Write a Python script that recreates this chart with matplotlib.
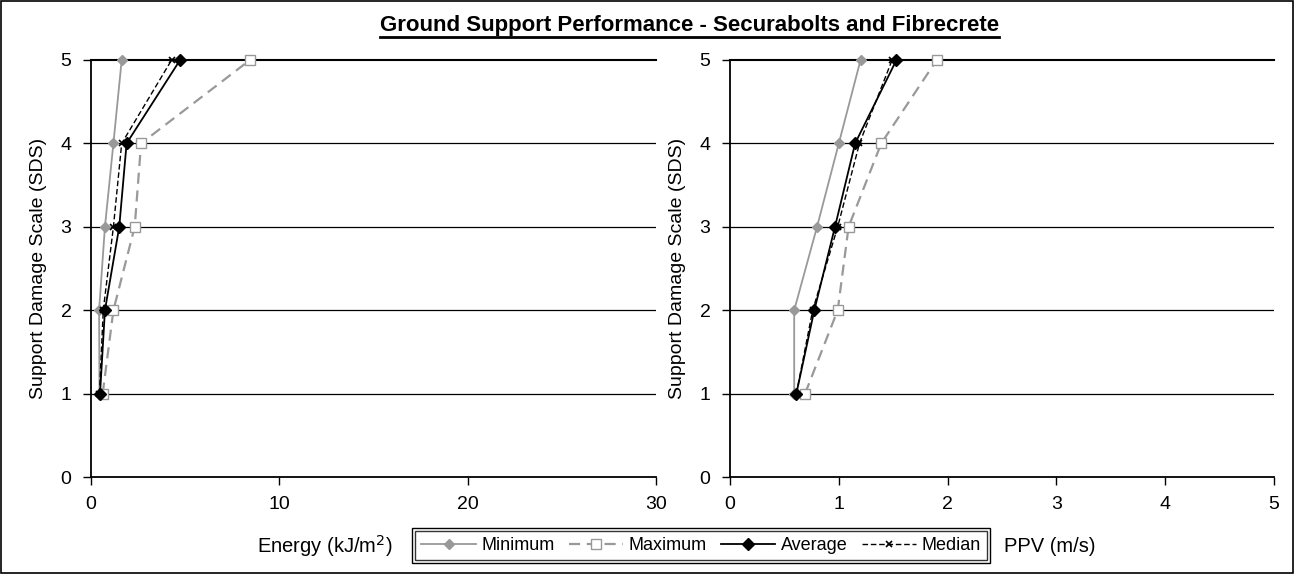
import matplotlib.pyplot as plt
from matplotlib.patches import Rectangle
from matplotlib.lines import Line2D

plt.rcParams['font.family'] = ['Liberation Sans', 'DejaVu Sans']

sds = [1, 2, 3, 4, 5]

# energy (kJ/m2)
energy_min = [0.45, 0.43, 0.74, 1.19, 1.63]
energy_max = [0.62, 1.19, 2.32, 2.66, 8.44]
energy_avg = [0.48, 0.74, 1.50, 1.89, 4.73]
energy_med = [0.45, 0.65, 1.19, 1.63, 4.28]

# PPV (m/s)
ppv_min = [0.59, 0.59, 0.80, 1.00, 1.20]
ppv_max = [0.69, 0.99, 1.09, 1.39, 1.90]
ppv_avg = [0.61, 0.775, 0.965, 1.15, 1.53]
ppv_med = [0.61, 0.76, 0.99, 1.19, 1.49]

grey = '#999999'

fig = plt.figure(figsize=(12.94, 5.74), dpi=100)
ax1 = fig.add_axes([91/1294, 1-477/574, 565/1294, 417/574])
ax2 = fig.add_axes([730/1294, 1-477/574, 544/1294, 417/574])


def draw(ax, mn, mx, av, md, xmax, xticks):
    ax.plot(mn, sds, color=grey, lw=1.3, marker='D', ms=5, mfc=grey, mec=grey, label='Minimum',
            zorder=3, clip_on=False)
    ax.plot(mx, sds, color=grey, lw=1.6, ls=(0, (5, 3)), marker='s', ms=7, mfc='white', mec=grey,
            label='Maximum', zorder=3, clip_on=False)
    ax.plot(av, sds, color='black', lw=1.3, marker='D', ms=6, mfc='black', mec='black', label='Average',
            zorder=4, clip_on=False)
    ax.plot(md, sds, color='black', lw=1.0, ls=(0, (4, 2)), marker='x', ms=5, mew=1.2, label='Median',
            zorder=4, clip_on=False)
    ax.set_xlim(0, xmax)
    ax.set_ylim(0, 5)
    ax.set_xticks(xticks)
    ax.set_yticks([0, 1, 2, 3, 4, 5])
    for v in [1, 2, 3, 4]:
        ax.axhline(v, color='black', lw=0.9, zorder=1)
    ax.axhline(5, color='black', lw=1.5, zorder=1, clip_on=False)
    for s in ['top', 'right']:
        ax.spines[s].set_visible(False)
    ax.spines['left'].set_linewidth(1.3)
    ax.spines['bottom'].set_linewidth(1.3)
    ax.tick_params(labelsize=14, direction='out', length=6, width=1, pad=8)
    ax.set_ylabel('Support Damage Scale (SDS)', fontsize=14, labelpad=10)


draw(ax1, energy_min, energy_max, energy_avg, energy_med, 30, [0, 10, 20, 30])
draw(ax2, ppv_min, ppv_max, ppv_avg, ppv_med, 5, [0, 1, 2, 3, 4, 5])

# titles / axis labels
title = fig.text(0.533, 1-25/574, 'Ground Support Performance - Securabolts and Fibrecrete',
                 ha='center', va='center', fontsize=16, fontweight='bold')
fig.text(325/1294, 1-546/574, 'Energy (kJ/m$^2$)', ha='center', va='center', fontsize=14.5)
fig.text(1050/1294, 1-546/574, 'PPV (m/s)', ha='center', va='center', fontsize=14.5)

# legend
handles, labels = ax1.get_legend_handles_labels()
leg = fig.legend(handles, labels, loc='center', bbox_to_anchor=(701/1294, 1-545.5/574), ncol=4,
                 fontsize=13, frameon=True, fancybox=False, edgecolor='black', handlelength=3.0,
                 columnspacing=0.8, handletextpad=0.3, borderpad=0.35)
leg.get_frame().set_linewidth(1.0)

fig.canvas.draw()
r = fig.transFigure.inverted()
bb = title.get_window_extent().transformed(r)
fig.add_artist(Line2D([bb.x0, bb.x1], [1-37/574, 1-37/574], color='black', lw=2.0,
                      transform=fig.transFigure))
lb = leg.get_window_extent().transformed(r)
pad_x, pad_y = 3/1294, 3/574
fig.add_artist(Rectangle((lb.x0 - pad_x, lb.y0 - pad_y), lb.width + 2*pad_x, lb.height + 2*pad_y,
                         fill=False, edgecolor='black', lw=1.0, transform=fig.transFigure))

# outer border
fig.add_artist(Rectangle((0.001, 0.002), 0.998, 0.996, fill=False, edgecolor='black', lw=1.2,
                         transform=fig.transFigure))

fig.savefig('out.png', dpi=100)
